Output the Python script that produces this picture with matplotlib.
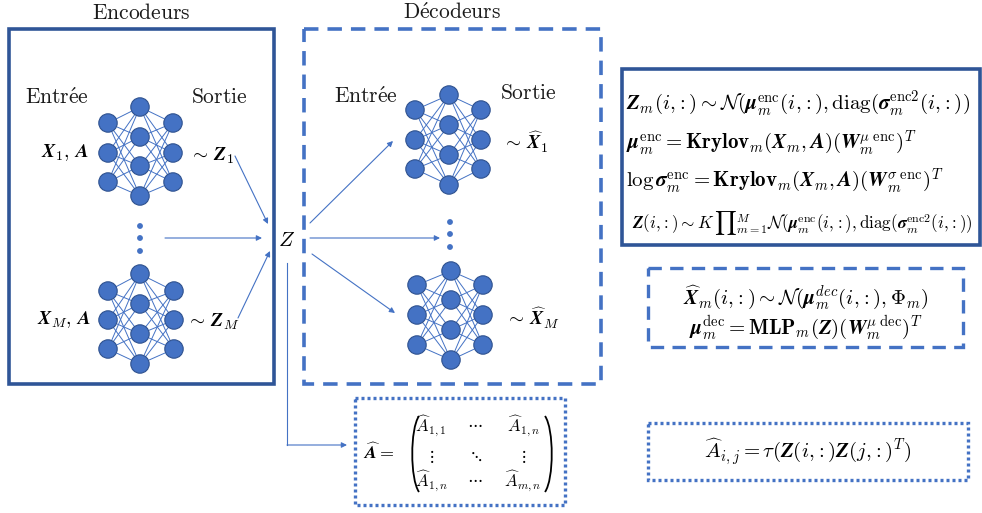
import matplotlib
matplotlib.use("Agg")
import matplotlib.pyplot as plt
from matplotlib.patches import Circle, Rectangle
from matplotlib.path import Path
from matplotlib.patches import PathPatch

plt.rcParams['mathtext.fontset'] = 'cm'

W, H = 982, 513
fig = plt.figure(figsize=(9.82, 5.13), dpi=100)
ax = fig.add_axes([0, 0, 1, 1])
ax.set_xlim(0, W)
ax.set_ylim(H, 0)
ax.axis('off')

NODE = '#4472C4'
EDGE = '#2F528F'
DARK = '#2F5597'

# ---- network layouts: (x of layer, list of y) ----
enc1 = [(108, [123, 153, 182]), (140, [107, 137, 166, 196]), (173, [123, 153, 182])]
encM = [(108, [291, 320, 349]), (140, [274, 304, 334, 364]), (174, [291, 320, 349])]
dec1 = [(415, [110, 140, 169]), (449, [95, 125, 155, 185]), (481, [110, 140, 169])]
decM = [(417, [285, 315, 345]), (451, [271, 300, 330, 360]), (483, [285, 315, 345])]
enc_dots = [(140, 226), (140, 238), (140, 251)]
dec_dots = [(450, 222), (450, 234), (450, 247)]
R = 9.2


def draw_net(layers):
    for (x0, ys0), (x1, ys1) in zip(layers[:-1], layers[1:]):
        for y0 in ys0:
            for y1 in ys1:
                ax.plot([x0, x1], [y0, y1], color=NODE, lw=0.7, zorder=1)
    for x, ys in layers:
        for y in ys:
            ax.add_patch(Circle((x, y), R, facecolor=NODE, edgecolor=EDGE, lw=0.8, zorder=2))


for net in (enc1, encM, dec1, decM):
    draw_net(net)
for x, y in enc_dots + dec_dots:
    ax.add_patch(Circle((x, y), 2.2, facecolor=NODE, edgecolor=NODE, zorder=2))

# ---- boxes ----
ax.add_patch(Rectangle((9, 29), 265, 355, fill=False, edgecolor=DARK, lw=2.6, zorder=0))
ax.add_patch(Rectangle((304, 29), 297, 355, fill=False, edgecolor=NODE, lw=2.6,
                       linestyle=(0, (4, 2.5)), zorder=0))
ax.add_patch(Rectangle((355, 398), 210, 107, fill=False, edgecolor=NODE, lw=2.4,
                       linestyle=(0, (0.9, 0.9)), zorder=0))
ax.add_patch(Rectangle((622, 69), 358, 176, fill=False, edgecolor=DARK, lw=2.6, zorder=0))
ax.add_patch(Rectangle((648, 268), 315, 79, fill=False, edgecolor=NODE, lw=2.4,
                       linestyle=(0, (4, 2.5)), zorder=0))
ax.add_patch(Rectangle((648, 423), 320, 57, fill=False, edgecolor=NODE, lw=2.4,
                       linestyle=(0, (0.9, 0.9)), zorder=0))

# ---- arrows ----
arrow_kw = dict(arrowstyle='-|>', color=NODE, lw=0.8, mutation_scale=8, shrinkA=0, shrinkB=0)
arrows = [((235, 156), (268, 224)), ((165, 238), (262, 238)), ((238, 318), (270, 251)),
          ((310, 223), (393, 141)), ((310, 238), (440, 238)), ((312, 254), (395, 313)),
          ((287, 445), (347, 445))]
for (x0, y0), (x1, y1) in arrows:
    ax.annotate('', xy=(x1, y1), xytext=(x0, y0), arrowprops=arrow_kw)
ax.plot([287, 287], [263, 445], color=NODE, lw=0.8)

# ---- text ----
T = dict(ha='center', va='center', color='#1a1a1a')
tfs = 15.5
ax.text(141, 13, r'$\mathrm{Encodeurs}$', fontsize=tfs, **T)
ax.text(452, 13, r"$\mathrm{D\'ecodeurs}$", fontsize=tfs, **T)
ax.text(57, 98, r"$\mathrm{Entr\'ee}$", fontsize=tfs, **T)
ax.text(219, 97, r'$\mathrm{Sortie}$', fontsize=tfs, **T)
ax.text(366, 97, r"$\mathrm{Entr\'ee}$", fontsize=tfs, **T)
ax.text(528, 93, r'$\mathrm{Sortie}$', fontsize=tfs, **T)

lab_fs = 14
ax.text(89, 153, r'$\mathbfit{X}_1,\, \mathbfit{A}$', fontsize=lab_fs, ha='right', va='center')
ax.text(189, 156, r'$\sim\, \mathbfit{Z}_1$', fontsize=lab_fs, ha='left', va='center')
ax.text(91, 320, r'$\mathbfit{X}_M,\, \mathbfit{A}$', fontsize=lab_fs, ha='right', va='center')
ax.text(186, 322, r'$\sim\, \mathbfit{Z}_M$', fontsize=lab_fs, ha='left', va='center')
ax.text(287, 240, r'$Z$', fontsize=15, ha='center', va='center')
ax.text(502, 142, r'$\sim\, \widehat{\mathbfit{X}}_1$', fontsize=lab_fs, ha='left', va='center')
ax.text(505, 318, r'$\sim\, \widehat{\mathbfit{X}}_M$', fontsize=lab_fs, ha='left', va='center')

# right box equations
eq_fs = 15
C = r',\!{:}'
ax.text(626, 104, r'$\mathbfit{Z}_m(i' + C + r') \sim \mathcal{N}(\mathbfit{\mu}_m^{\mathrm{enc}}(i' + C + r'),\mathrm{diag}(\mathbfit{\sigma}_m^{\mathrm{enc}2}(i' + C + r'))$',
        fontsize=eq_fs, ha='left', va='center')
ax.text(626, 143, r'$\mathbfit{\mu}_m^{\mathrm{enc}} = \mathbf{Krylov}_m(\mathbfit{X}_m, \mathbfit{A})(\mathbfit{W}_m^{\mu\ \mathrm{enc}})^T$',
        fontsize=eq_fs, ha='left', va='center')
ax.text(626, 181, r'$\log \mathbfit{\sigma}_m^{\mathrm{enc}} = \mathbf{Krylov}_m(\mathbfit{X}_m, \mathbfit{A})(\mathbfit{W}_m^{\sigma\ \mathrm{enc}})^T$',
        fontsize=eq_fs, ha='left', va='center')
ax.text(632, 223, r'$\mathbfit{Z}(i' + C + r') \sim K\, {\prod}_{m=1}^{M} \mathcal{N}(\mathbfit{\mu}_m^{\mathrm{enc}}(i' + C + r'),\mathrm{diag}(\mathbfit{\sigma}_m^{\mathrm{enc}2}(i' + C + r'))$',
        fontsize=12.3, ha='left', va='center')

ax.text(806, 298, r'$\widehat{\mathbfit{X}}_m(i' + C + r') \sim \mathcal{N}(\mathbfit{\mu}_m^{dec}(i' + C + r'), \mathbf{\Phi}_m)$',
        fontsize=eq_fs, ha='center', va='center')
ax.text(806, 328, r'$\mathbfit{\mu}_m^{\mathrm{dec}} = \mathbf{MLP}_m(\mathbfit{Z})(\mathbfit{W}_m^{\mu\ \mathrm{dec}})^T$',
        fontsize=eq_fs, ha='center', va='center')
ax.text(808, 452, r'$\widehat{A}_{i,j} = \tau(\mathbfit{Z}(i' + C + r')\mathbfit{Z}(j' + C + r')^T)$',
        fontsize=eq_fs, ha='center', va='center')

# matrix
ax.text(379, 453, r'$\widehat{\mathbfit{A}} =$', fontsize=13, ha='center', va='center')
mfs = 12
cells = [[r'$\widehat{A}_{1,1}$', r'$\cdots$', r'$\widehat{A}_{1,n}$'],
         [r'$\vdots$', r'$\ddots$', r'$\vdots$'],
         [r'$\widehat{A}_{1,n}$', r'$\cdots$', r'$\widehat{A}_{m,n}$']]
col_x = [431, 475, 523]
row_y = [426, 456, 481]
dy = [[0, -3, 0], [0, 0, 0], [0, -3, 0]]
for r_i, row in enumerate(cells):
    for c_i, s in enumerate(row):
        ax.text(col_x[c_i], row_y[r_i] + dy[r_i][c_i], s, fontsize=mfs, ha='center', va='center')

def paren(x, y0, y1, bulge):
    verts = [(x, y0), (x - bulge, (y0 + y1) / 2 - 25), (x - bulge, (y0 + y1) / 2 + 25), (x, y1)]
    codes = [Path.MOVETO, Path.CURVE4, Path.CURVE4, Path.CURVE4]
    ax.add_patch(PathPatch(Path(verts, codes), fill=False, lw=1.3, edgecolor='k'))

paren(419, 416, 492, 9)
paren(545, 416, 492, -9)

fig.savefig('out.png', dpi=100)
